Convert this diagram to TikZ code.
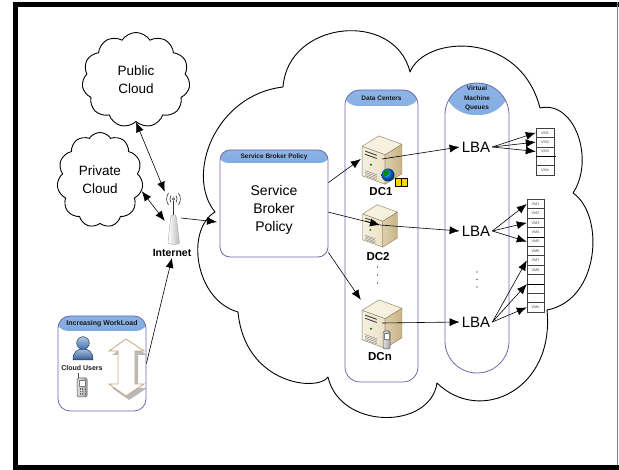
\documentclass[tikz,border=0pt]{standalone}
\usepackage{fontspec}
\setmainfont{Liberation Sans}
\usetikzlibrary{arrows.meta,shapes.symbols}

\definecolor{boxline}{HTML}{6A6AAA}
\definecolor{headtop}{HTML}{8DB4E6}
\definecolor{headbot}{HTML}{3A73BB}
\definecolor{srvtop}{HTML}{F6F0E0}
\definecolor{srvfront}{HTML}{ECE1C4}
\definecolor{srvside}{HTML}{C9B384}
\definecolor{srvedge}{HTML}{8C7B55}
\definecolor{arrowtan}{HTML}{C8A57A}
\definecolor{userblue}{HTML}{3D74B8}

\begin{document}
\begin{tikzpicture}[x=1pt, y=-1pt,
  cloudline/.style={draw=black, line width=0.9pt, line join=round},
  smallcloud/.style={cloud, cloud puffs=11, cloud puff arc=115, draw=black,
    line width=0.9pt, inner sep=0pt, align=center,
    font=\fontsize{13.5}{18}\selectfont},
  link/.style={draw=black, line width=0.6pt, -{Latex[length=10pt,width=8pt]}},
  duplex/.style={link, {Latex[length=10pt,width=8pt]}-{Latex[length=10pt,width=8pt]}},
  panel/.style={draw=boxline, line width=0.8pt, fill=white, inner sep=0pt,
    rounded corners=#1},
  header/.style={path picture={\shade[top color=headtop, bottom color=headbot]
      ([xshift=-2pt,yshift=2pt]path picture bounding box.north west) rectangle
      ([xshift=2pt,yshift=-#1]path picture bounding box.north east);}},
  headtxt/.style={font=\bfseries\fontsize{6.5}{9.3}\selectfont, text=black!90,
    inner sep=0pt, align=center},
  bodytxt/.style={font=\fontsize{14}{18}\selectfont, align=center, inner sep=0pt},
  lbatxt/.style={font=\fontsize{15}{18}\selectfont, inner sep=2pt},
  dclabel/.style={font=\bfseries\fontsize{11.5}{14}\selectfont, inner sep=0pt},
  vmcell/.style={draw=black!75, line width=0.4pt, fill=white, minimum width=18pt,
    minimum height=9.4pt, inner sep=0pt, font=\fontsize{3.8}{4}\selectfont,
    text=black!70},
  srvspot/.style={minimum width=42pt, minimum height=46pt, inner sep=0pt},
  server/.pic={
    \filldraw[fill=srvtop, draw=srvedge, line width=0.4pt, line join=round]
      (-19,-12) -- (-3,-22) -- (19,-14) -- (3,-4) -- cycle;
    \shadedraw[left color=srvfront!50!white, right color=srvfront, draw=srvedge,
      line width=0.4pt, line join=round]
      (-19,-12) -- (3,-4) -- (3,24) -- (-19,16) -- cycle;
    \shadedraw[left color=srvside!65!white, right color=srvside, draw=srvedge,
      line width=0.4pt, line join=round]
      (3,-4) -- (19,-14) -- (19,14) -- (3,24) -- cycle;
    \draw[black!75, line width=0.9pt] (-16,-7.5) -- (-5,-3.5) (-16,-4.5) -- (-5,-0.5);
    \fill[green!45!black] (-10.5,5.5) circle (1.1);
    \foreach \k in {0,...,3}
      \draw[black!55, line width=0.35pt] (-16,{11+1.6*\k}) -- (-5,{15+1.6*\k});
  }
]
\useasboundingbox (0,0) rectangle (619,470);

% page frame
\fill[black] (13,2) rectangle (619,7);
\fill[black] (13,2) rectangle (17.5,470);
\fill[black] (13,465) rectangle (619,470);
\draw[gray, line width=1.2pt] (617.5,2) -- (617.5,465);

% the provider cloud
\draw[cloudline] (215,212) .. controls (185,175) and (215,95) .. (283,87)
  .. controls (288,20) and (395,10) .. (410,72)
  .. controls (425,35) and (520,30) .. (540,108)
  .. controls (575,100) and (595,160) .. (573,193)
  .. controls (605,215) and (600,300) .. (547,310)
  .. controls (555,390) and (480,425) .. (437,383)
  .. controls (430,430) and (340,430) .. (328,377)
  .. controls (318,392) and (245,385) .. (238,312)
  .. controls (195,300) and (185,230) .. (215,212) -- cycle;
\coordinate (cloudin) at (217,222);

% outside clouds
\node[smallcloud, minimum width=108pt, minimum height=95pt] (pub) at (136,80) {Public\\Cloud};
\node[smallcloud, minimum width=86pt, minimum height=95pt] (priv) at (100,180) {Private\\Cloud};

% internet antenna
\node[minimum width=16pt, minimum height=52pt, inner sep=0pt] (ant) at (173,218) {};
\shadedraw[left color=white, right color=gray!55, draw=gray!70, line width=0.4pt]
  (168,243) -- (170.5,218) .. controls (171,213.5) and (176,213.5) .. (176.5,218)
  -- (179.5,243) .. controls (177,245) and (170.5,245) .. (168,243) -- cycle;
\draw[gray!40!black, line width=0.5pt] (173.5,201) -- (173.5,215);
\draw[gray!40!black, line width=0.6pt] (173.5,199) circle (1.3);
\draw[gray!40!black, line width=0.6pt]
  (171,195.5) .. controls (169.6,197.5) and (169.6,200.5) .. (171,202.5)
  (168.5,193) .. controls (166,197) and (166,201) .. (168.5,205)
  (176,195.5) .. controls (177.4,197.5) and (177.4,200.5) .. (176,202.5)
  (178.5,193) .. controls (181,197) and (181,201) .. (178.5,205);
\node[font=\bfseries\fontsize{10.5}{12}\selectfont, inner sep=1pt] (inet) at (172,253) {Internet};

% workload panel
\node[panel=12pt, header=15pt, minimum width=88pt, minimum height=95pt] (wl) at (102,363.5) {};
\node[headtxt, font=\bfseries\fontsize{7}{8}\selectfont] (wlt) at (102,323.5) {Increasing WorkLoad};
% user
\shadedraw[top color=userblue!45!white, bottom color=userblue!80!black, draw=userblue!50!black, line width=0.5pt]
  (73,360) .. controls (73,351) and (78,349) .. (83,349) .. controls (88,349) and (93,351) .. (93,360) -- cycle;
\shadedraw[top color=userblue!40!white, bottom color=userblue, draw=userblue!50!black, line width=0.5pt]
  (83,343) circle (6.3);
\node[headtxt, font=\bfseries\fontsize{7}{8}\selectfont] (users) at (82,368) {Cloud Users};
% phone
\draw[black!70, line width=0.7pt] (78.5,373) -- (78.5,380);
\shadedraw[left color=gray!25, right color=gray!70, draw=black!70, line width=0.5pt, rounded corners=1.5pt]
  (77,378) rectangle (87,397);
\fill[white, draw=black!50, line width=0.3pt] (79,380.5) rectangle (85,386);
\foreach \r in {0,1,2} \foreach \c in {0,1,2}
  \fill[black!60] ({79.5+2.5*\c},{388.5+2.5*\r}) rectangle ++(1.4,1.2);
% load arrow
\fill[gray!55] (129,343) -- (147,355) -- (138,355) -- (138,388) -- (147,388) -- (129,400)
  -- (112,388) -- (121,388) -- (121,355) -- (112,355) -- cycle;
\filldraw[fill=white, draw=arrowtan, line width=0.8pt, line join=miter]
  (126,339) -- (144,351) -- (135,351) -- (135,384) -- (144,384) -- (126,396)
  -- (109,384) -- (118,384) -- (118,351) -- (109,351) -- cycle;

% broker policy panel
\node[panel=10pt, header=13pt, minimum width=108pt, minimum height=107pt] (sbp) at (274,203.5) {};
\node[headtxt] (sbpt) at (274,156.5) {Service Broker Policy};
\node[bodytxt] (sbpb) at (274,210) {Service\\Broker\\Policy};

% data centre column
\node[panel=15pt, header=16pt, minimum width=73pt, minimum height=292pt] (dccol) at (381.5,236) {};
\node[headtxt] (dct) at (381.5,98.5) {Data Centers};

% queue column
\node[panel=31.9pt, header=32pt, minimum width=64pt, minimum height=290pt] (vmcol) at (477,228) {};
\node[headtxt] (vmt) at (477,98.5) {Virtual\\Machine\\Queues};

% servers
\node[srvspot] (dc1) at (382,159) {};
\pic[scale=1.05] at (382,159) {server};
\shade[ball color=blue!55!cyan] (388,175) circle (6.5);
\fill[green!55!black] (384,171) .. controls (387,169) and (390,171) .. (389,174)
  .. controls (387,176) and (385,178) .. (383,176) -- cycle;
\filldraw[fill=yellow!75!orange, draw=black, line width=0.5pt] (395,178) rectangle (407,186);
\draw[black, line width=0.5pt] (401,178) -- (401,186);
\node[dclabel] (dc1l) at (381,192) {DC1};

\node[srvspot, minimum width=36pt, minimum height=42pt] (dc2) at (380,225) {};
\pic[scale=0.92] at (380,225) {server};
\node[dclabel] (dc2l) at (378,257) {DC2};

\node[srvspot] (dcn) at (382,323) {};
\pic[scale=1.05] at (382,323) {server};
\shadedraw[left color=gray!25, right color=gray!70, draw=black!70, line width=0.5pt, rounded corners=1.5pt]
  (383,331) rectangle (390,349);
\fill[white, draw=black!50, line width=0.3pt] (384.3,333.5) rectangle (388.7,339);
\node[dclabel] (dcnl) at (380,357) {DCn};

% continuation dots
\foreach \yy in {267,275,283} \fill (377.5,\yy) circle (0.6);
\foreach \yy in {272,279.5,287} \fill (477,\yy) circle (0.6);

% balancers
\node[lbatxt] (lba1) at (476,147) {LBA};
\node[lbatxt] (lba2) at (476,231) {LBA};
\node[lbatxt] (lba3) at (476,322) {LBA};

% VM queues
\foreach \t [count=\i] in {VM1,VM2,VM3,.,VMn}
  \node[vmcell] (qa-\i) at (545,{123.3+\i*9.4}) {\t};
\draw[line width=0.9pt] (qa-3.south west) -- ([xshift=2pt]qa-3.south east);
\foreach \t [count=\i] in {VM1,VM2,VM3,VM4,VM5,VM6,VM7,VM8,.,.,.,VMn}
  \node[vmcell, minimum width=17pt] (qb-\i) at (535.5,{194.6+\i*9.4}) {\t};
\draw[line width=0.9pt] (qb-4.south west) -- (qb-4.south east);
\draw[line width=0.9pt] (qb-9.south west) -- (qb-9.south east);

% connectors
\draw[duplex] (pub.south) -- (ant.north west);
\draw[duplex] (priv.-15) -- (ant.200);
\draw[link] (ant.east) -- (cloudin);
\draw[link] (wl.east) -- (inet.south);

\draw[link] (sbp.21) -- (dc1.west);
\draw[link] (sbp.-9) -- (dc2.center);
\draw[link] (sbp.-42) -- (dcn.north west);

\draw[link] (dc1.center) -- (lba1.west);
\draw[link] (dc2.center) -- (lba2.west);
\draw[link] (dcn.center) -- (lba3.west);

\foreach \k in {1,2,3} \draw[link] (lba1.east) -- (qa-\k.west);
\foreach \k in {1,3,5} \draw[link] (lba2.east) -- (qb-\k.west);
\draw[link] (lba3.east) -- (qb-7.west);
\draw[link] (lba3.east) -- (qb-9.south west);
\draw[link] (lba3.east) -- (qb-12.west);
\end{tikzpicture}
\end{document}
